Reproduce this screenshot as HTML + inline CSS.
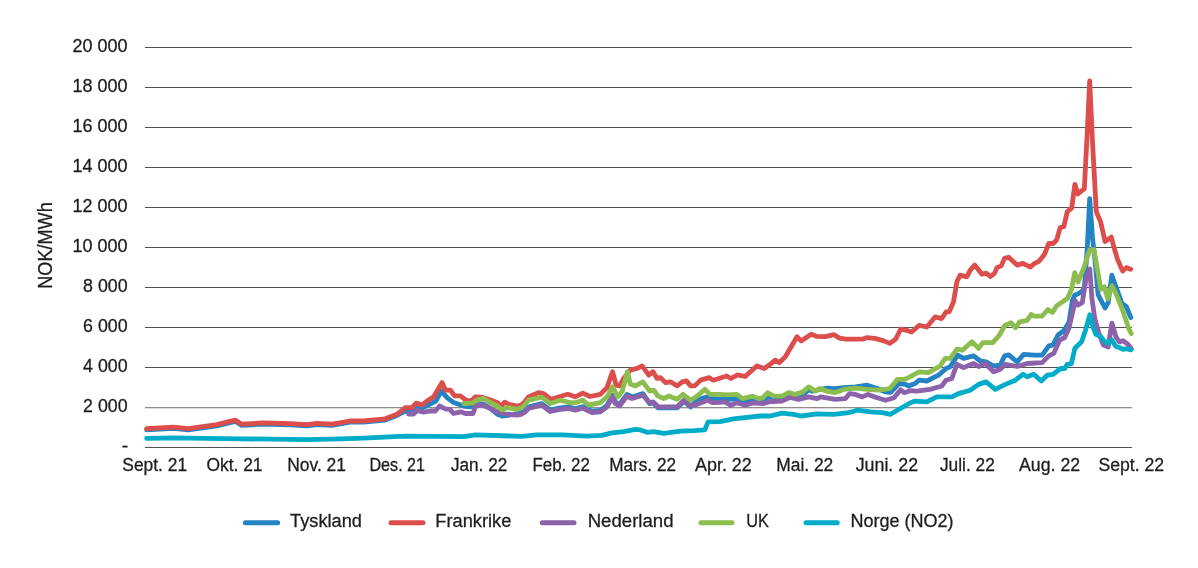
<!DOCTYPE html>
<html lang="no"><head><meta charset="utf-8"><title>Kraftpriser</title>
<style>
html,body{margin:0;padding:0;background:#fff;}
svg{display:block}
text{font-family:"Liberation Sans",sans-serif;fill:#1d1d1b;stroke:#1d1d1b;stroke-width:0.3px;}
.ln{fill:none;stroke-width:4.8;stroke-linejoin:round;stroke-linecap:round}
.lg{fill:none;stroke-width:5.0;stroke-linecap:round}
.g{stroke:#51514f;stroke-width:1;shape-rendering:crispEdges}
</style></head><body>
<svg width="1198" height="568" viewBox="0 0 1198 568">
<rect width="1198" height="568" fill="#fff"/>

<line class="g" x1="145" x2="1132" y1="47.3" y2="47.3"/>
<line class="g" x1="145" x2="1132" y1="87.3" y2="87.3"/>
<line class="g" x1="145" x2="1132" y1="127.3" y2="127.3"/>
<line class="g" x1="145" x2="1132" y1="167.3" y2="167.3"/>
<line class="g" x1="145" x2="1132" y1="207.3" y2="207.3"/>
<line class="g" x1="145" x2="1132" y1="247.3" y2="247.3"/>
<line class="g" x1="145" x2="1132" y1="287.3" y2="287.3"/>
<line class="g" x1="145" x2="1132" y1="327.3" y2="327.3"/>
<line class="g" x1="145" x2="1132" y1="367.3" y2="367.3"/>
<rect x="145" y="407" width="987" height="1" fill="#8e8e8c" shape-rendering="crispEdges"/>
<rect x="145" y="408" width="987" height="1" fill="#dededd" shape-rendering="crispEdges"/>
<line class="g" x1="145" x2="1132" y1="447.3" y2="447.3"/>
<text x="127.6" y="51.8" font-size="19.2" text-anchor="end" textLength="55.0" lengthAdjust="spacingAndGlyphs">20 000</text>
<text x="127.6" y="91.8" font-size="19.2" text-anchor="end" textLength="55.0" lengthAdjust="spacingAndGlyphs">18 000</text>
<text x="127.6" y="131.8" font-size="19.2" text-anchor="end" textLength="55.0" lengthAdjust="spacingAndGlyphs">16 000</text>
<text x="127.6" y="171.8" font-size="19.2" text-anchor="end" textLength="55.0" lengthAdjust="spacingAndGlyphs">14 000</text>
<text x="127.6" y="211.8" font-size="19.2" text-anchor="end" textLength="55.0" lengthAdjust="spacingAndGlyphs">12 000</text>
<text x="127.6" y="251.8" font-size="19.2" text-anchor="end" textLength="55.0" lengthAdjust="spacingAndGlyphs">10 000</text>
<text x="127.6" y="291.8" font-size="19.2" text-anchor="end" textLength="44.5" lengthAdjust="spacingAndGlyphs">8 000</text>
<text x="127.6" y="331.8" font-size="19.2" text-anchor="end" textLength="44.5" lengthAdjust="spacingAndGlyphs">6 000</text>
<text x="127.6" y="371.8" font-size="19.2" text-anchor="end" textLength="44.5" lengthAdjust="spacingAndGlyphs">4 000</text>
<text x="127.6" y="411.8" font-size="19.2" text-anchor="end" textLength="44.5" lengthAdjust="spacingAndGlyphs">2 000</text>
<text x="121.7" y="452.1" font-size="19.2">-</text>
<text transform="translate(51.6,245.5) rotate(-90)" font-size="20.2" text-anchor="middle" textLength="86.6" lengthAdjust="spacingAndGlyphs">NOK/MWh</text>
<text x="122.3" y="470.7" font-size="19.2" textLength="64.8" lengthAdjust="spacingAndGlyphs">Sept. 21</text>
<text x="206.4" y="470.7" font-size="19.2" textLength="56.1" lengthAdjust="spacingAndGlyphs">Okt. 21</text>
<text x="287.2" y="470.7" font-size="19.2" textLength="58.8" lengthAdjust="spacingAndGlyphs">Nov. 21</text>
<text x="369.4" y="470.7" font-size="19.2" textLength="55.7" lengthAdjust="spacingAndGlyphs">Des. 21</text>
<text x="451.0" y="470.7" font-size="19.2" textLength="56.2" lengthAdjust="spacingAndGlyphs">Jan. 22</text>
<text x="532.4" y="470.7" font-size="19.2" textLength="57.5" lengthAdjust="spacingAndGlyphs">Feb. 22</text>
<text x="609.2" y="470.7" font-size="19.2" textLength="66.8" lengthAdjust="spacingAndGlyphs">Mars. 22</text>
<text x="695.0" y="470.7" font-size="19.2" textLength="56.8" lengthAdjust="spacingAndGlyphs">Apr. 22</text>
<text x="776.2" y="470.7" font-size="19.2" textLength="57.1" lengthAdjust="spacingAndGlyphs">Mai. 22</text>
<text x="855.7" y="470.7" font-size="19.2" textLength="62.4" lengthAdjust="spacingAndGlyphs">Juni. 22</text>
<text x="939.9" y="470.7" font-size="19.2" textLength="55.0" lengthAdjust="spacingAndGlyphs">Juli. 22</text>
<text x="1019.0" y="470.7" font-size="19.2" textLength="61.1" lengthAdjust="spacingAndGlyphs">Aug. 22</text>
<text x="1098.4" y="470.7" font-size="19.2" textLength="65.8" lengthAdjust="spacingAndGlyphs">Sept. 22</text>
<polyline class="ln" stroke="#2483c4" points="146.6,429.8 173.4,428.4 188.4,429.8 216.8,425.9 235.2,421.3 241.8,425.4 263.5,424.1 290.3,424.9 307.0,425.9 317.0,424.6 332.0,425.4 350.0,422.2 363.4,422.2 385.2,420.0 396.9,415.5 403.6,411.8 409.0,410.5 416.0,407.0 422.0,408.0 431.0,403.5 436.0,401.0 441.2,390.9 447.0,397.6 453.7,402.6 463.8,406.0 470.5,406.8 476.0,404.0 483.0,404.0 490.0,408.0 497.0,414.0 502.0,416.0 510.0,415.0 517.3,413.7 521.0,412.9 524.5,411.0 528.4,407.0 541.7,403.7 550.1,410.0 560.1,407.8 568.5,407.0 575.2,408.7 582.7,406.7 591.9,411.2 600.3,410.4 607.0,405.3 612.5,395.3 615.3,402.0 619.5,404.5 627.0,394.5 632.0,397.0 642.9,393.6 649.6,403.7 653.0,402.8 658.0,407.8 665.5,407.8 677.2,407.8 683.9,401.2 690.6,407.0 697.3,399.5 707.0,397.0 713.0,398.6 726.7,399.4 736.8,398.8 743.0,401.0 751.8,400.3 760.0,401.0 768.0,397.0 782.0,398.5 790.0,395.5 798.0,396.5 803.6,394.4 808.7,389.5 812.0,391.1 820.0,389.5 827.1,388.2 834.6,388.6 843.8,387.7 855.5,386.9 867.2,385.2 877.2,388.6 885.6,391.9 890.6,392.3 899.0,383.5 905.6,384.4 908.4,386.0 915.1,383.5 919.2,380.2 926.8,381.0 938.5,375.2 946.0,368.5 950.2,366.8 957.7,355.1 963.5,358.4 973.6,355.9 980.3,361.0 986.1,361.8 993.6,366.0 1000.3,365.1 1004.5,355.9 1008.7,354.8 1017.1,361.8 1023.7,354.3 1033.8,355.1 1042.1,355.1 1048.8,345.9 1053.0,345.1 1058.0,335.0 1063.5,331.0 1069.0,322.3 1072.4,300.5 1074.7,295.2 1079.0,293.4 1082.3,291.0 1084.4,287.0 1087.1,251.0 1089.7,198.6 1092.5,238.0 1095.2,262.0 1098.1,294.6 1105.0,308.0 1108.2,302.5 1111.8,275.2 1117.5,291.0 1121.9,303.4 1126.3,306.5 1130.8,317.5"/>
<polyline class="ln" stroke="#dc4e4b" points="146.6,428.6 173.4,427.2 188.4,428.6 216.8,424.7 235.2,420.1 241.8,424.2 263.5,422.9 290.3,423.7 307.0,424.7 317.0,423.4 332.0,424.2 350.0,421.0 363.4,421.0 385.2,418.8 396.9,414.3 405.3,407.6 412.0,407.6 416.1,403.1 422.0,405.1 427.0,401.0 433.7,396.8 442.0,382.6 445.4,390.1 450.4,390.1 454.6,395.9 460.4,395.9 467.1,401.0 472.1,400.1 475.5,396.8 483.0,397.5 490.5,400.1 497.2,402.6 501.4,406.0 504.7,402.1 508.9,404.3 517.3,406.0 521.0,405.0 524.5,402.0 528.4,397.0 538.4,392.6 543.4,393.5 550.9,399.3 560.1,396.5 567.7,394.3 575.2,396.8 582.7,393.1 590.2,396.5 600.3,394.3 607.0,387.6 612.5,371.7 616.2,385.1 619.5,385.9 623.7,378.4 630.4,370.1 637.1,368.4 642.1,365.9 648.8,375.1 653.0,371.7 657.1,378.4 660.5,377.6 665.5,382.6 670.5,381.8 677.2,385.9 682.2,381.8 686.4,380.9 690.6,385.9 694.7,385.9 700.6,380.1 709.0,377.6 713.3,380.2 726.7,376.0 730.9,378.5 737.6,374.8 745.1,376.5 756.8,366.0 764.3,368.5 770.2,364.3 775.2,360.1 779.4,362.6 785.3,356.8 797.0,336.7 801.1,340.9 811.2,334.2 817.0,336.4 825.4,336.7 833.7,334.7 839.6,338.1 845.5,339.2 862.2,339.2 867.2,337.6 874.7,338.4 883.9,340.9 889.8,343.4 895.6,339.2 900.6,329.2 906.7,330.3 911.7,332.0 919.2,325.3 926.8,327.0 935.1,316.9 941.8,318.6 946.0,311.9 949.3,311.6 953.5,301.9 956.9,281.8 960.2,275.1 966.9,276.8 970.2,270.1 974.7,265.1 981.9,274.3 986.1,273.1 990.3,276.5 994.5,273.4 997.0,267.6 1001.2,265.9 1004.5,258.4 1008.7,257.2 1017.1,265.1 1022.9,263.4 1030.4,267.1 1033.8,263.9 1038.8,261.4 1044.6,254.2 1048.8,243.3 1053.2,243.5 1056.7,239.8 1060.2,227.5 1063.8,226.6 1067.3,211.6 1071.7,208.1 1074.9,184.3 1077.9,194.0 1081.6,190.8 1084.3,189.0 1087.0,137.3 1089.7,81.0 1092.4,140.0 1096.3,211.6 1100.7,222.2 1105.1,241.5 1111.3,237.1 1113.9,247.0 1117.5,259.4 1122.7,271.1 1126.3,267.6 1130.7,269.2"/>
<polyline class="ln" stroke="#8c62aa" points="408.6,414.0 413.6,414.0 417.0,410.5 423.6,412.2 430.3,411.0 435.4,411.0 439.5,406.0 445.4,408.8 449.6,409.3 453.7,413.5 460.4,411.8 465.5,413.5 473.0,413.5 475.5,406.0 482.2,405.1 490.5,408.5 497.2,411.8 503.9,413.8 517.3,415.2 521.0,414.4 524.5,412.5 528.4,408.5 541.7,405.2 550.1,411.5 560.1,409.3 568.5,408.5 575.2,410.2 582.7,408.2 591.9,412.7 600.3,411.9 607.0,406.8 612.5,396.8 615.3,403.5 619.5,406.0 627.0,396.0 632.0,398.5 642.9,395.1 649.6,402.7 653.0,401.8 658.0,406.8 665.5,406.8 677.2,406.8 683.9,400.2 690.6,406.0 697.3,404.3 707.4,400.2 712.4,402.7 720.0,402.3 725.0,401.9 730.9,405.3 736.8,402.8 745.1,405.3 753.5,402.8 763.5,403.6 768.5,401.9 781.9,401.1 790.3,397.3 798.6,399.4 808.7,396.9 817.0,398.6 820.4,396.9 835.4,399.4 845.5,398.6 849.6,393.6 855.5,394.4 862.2,396.9 868.0,394.4 877.2,397.8 885.6,400.3 894.0,397.8 900.6,389.8 904.2,392.7 910.0,390.7 916.7,391.1 930.1,389.4 941.8,386.0 946.0,380.2 951.8,378.5 956.9,364.3 963.5,367.6 973.6,363.5 978.6,366.5 985.3,363.5 993.6,371.8 1000.3,369.3 1005.4,364.3 1017.1,366.5 1027.1,363.5 1042.1,362.6 1048.8,355.9 1053.8,353.4 1059.7,340.1 1064.7,337.5 1069.0,328.0 1072.6,312.2 1075.2,300.7 1077.9,305.1 1082.3,302.5 1086.1,278.7 1089.8,269.0 1091.9,298.1 1094.7,318.0 1098.3,331.5 1103.3,345.0 1108.2,346.9 1111.9,323.2 1116.0,337.0 1119.3,341.9 1123.0,340.7 1128.0,344.4 1131.3,348.7"/>
<polyline class="ln" stroke="#8cbd4f" points="463.8,403.5 472.1,403.1 477.2,400.1 483.0,398.4 490.5,402.6 497.2,406.0 502.2,409.8 507.3,407.6 517.3,409.3 521.0,408.0 524.5,405.0 528.4,400.2 541.7,397.1 550.1,403.5 560.1,400.2 570.2,402.7 575.2,402.7 582.7,400.2 588.6,405.2 600.3,402.7 607.0,396.8 612.5,386.8 617.8,396.8 622.0,391.8 627.5,371.7 630.4,384.3 635.4,385.9 642.9,381.8 649.6,391.0 653.8,390.1 658.0,396.0 663.8,398.5 668.8,396.0 677.2,399.3 683.0,394.3 690.6,400.2 697.3,396.0 704.8,389.3 709.8,394.3 720.0,394.3 726.7,394.9 736.8,394.4 742.6,398.6 752.6,396.1 758.5,398.6 762.7,397.8 767.7,392.7 773.5,396.1 781.9,396.1 788.6,392.7 795.3,394.4 802.8,391.9 808.7,386.9 815.4,391.1 819.5,388.6 827.1,391.1 834.6,392.7 843.8,389.4 855.5,388.2 867.2,389.4 878.9,390.2 889.8,388.6 897.3,379.4 904.0,379.4 906.7,378.5 919.2,371.8 928.4,372.7 940.1,366.0 945.2,358.4 950.2,358.4 956.9,349.2 962.7,350.1 971.9,341.7 978.6,348.4 982.8,342.6 992.8,342.6 999.5,335.0 1004.5,325.8 1011.2,322.8 1015.4,327.8 1019.6,321.9 1027.1,320.3 1031.3,314.4 1033.8,316.1 1042.1,316.1 1047.9,309.5 1052.5,312.4 1056.5,306.0 1067.5,298.3 1071.5,289.5 1074.7,272.6 1078.0,282.0 1084.0,267.4 1089.8,249.8 1093.8,249.5 1096.3,262.9 1100.7,289.3 1104.3,286.7 1107.8,299.0 1111.8,285.8 1115.7,292.8 1122.7,310.5 1126.5,321.7 1128.5,328.0 1131.2,333.5"/>
<polyline class="ln" stroke="#00acc8" points="146.6,438.3 173.4,437.9 240.0,438.8 307.0,439.6 340.0,438.8 363.4,438.1 405.3,436.1 463.8,436.6 475.5,434.9 514.0,436.1 522.0,436.4 536.7,434.9 561.8,434.9 586.9,436.1 601.9,435.3 612.0,432.8 623.7,431.6 635.4,429.4 640.4,429.9 647.1,432.3 653.8,431.6 663.8,433.3 680.5,431.1 693.9,430.6 704.8,429.9 708.1,421.9 720.0,421.7 733.4,418.9 760.2,416.0 770.2,416.0 781.9,413.2 793.6,414.3 801.1,416.0 817.0,413.8 833.7,414.3 848.8,412.7 857.2,410.2 870.5,411.8 882.2,412.7 890.6,414.3 897.3,410.2 904.0,406.5 910.0,403.0 915.1,401.1 926.8,401.9 936.8,396.9 951.8,396.9 958.5,393.6 970.2,390.2 978.6,384.4 986.1,381.9 995.3,389.4 1005.4,384.4 1015.4,380.2 1022.9,374.3 1027.1,376.8 1033.8,374.3 1041.3,381.0 1047.2,375.2 1053.0,374.3 1060.5,368.5 1064.7,368.5 1067.2,364.3 1071.3,363.8 1074.9,348.2 1081.6,341.8 1085.6,330.0 1089.8,314.8 1092.8,326.3 1095.9,334.3 1100.8,336.7 1104.5,341.5 1108.2,343.2 1111.9,340.1 1115.6,346.2 1119.3,347.5 1123.0,349.3 1126.7,348.7 1131.0,349.9"/>
<line class="lg" stroke="#2483c4" x1="245.4" x2="277.6" y1="522.7" y2="522.7"/>
<text x="290.1" y="527.4" font-size="19.2" textLength="71.8" lengthAdjust="spacingAndGlyphs">Tyskland</text>
<line class="lg" stroke="#dc4e4b" x1="391.0" x2="423.0" y1="522.7" y2="522.7"/>
<text x="435.3" y="527.4" font-size="19.2" textLength="76.1" lengthAdjust="spacingAndGlyphs">Frankrike</text>
<line class="lg" stroke="#8c62aa" x1="542.4" x2="574.0" y1="522.7" y2="522.7"/>
<text x="587.7" y="527.4" font-size="19.2" textLength="85.8" lengthAdjust="spacingAndGlyphs">Nederland</text>
<line class="lg" stroke="#8cbd4f" x1="701.0" x2="732.0" y1="522.7" y2="522.7"/>
<text x="746.3" y="527.4" font-size="19.2" textLength="22.7" lengthAdjust="spacingAndGlyphs">UK</text>
<line class="lg" stroke="#00acc8" x1="806.0" x2="837.2" y1="522.7" y2="522.7"/>
<text x="850.4" y="527.4" font-size="19.2" textLength="103.2" lengthAdjust="spacingAndGlyphs">Norge (NO2)</text>
</svg></body></html>
